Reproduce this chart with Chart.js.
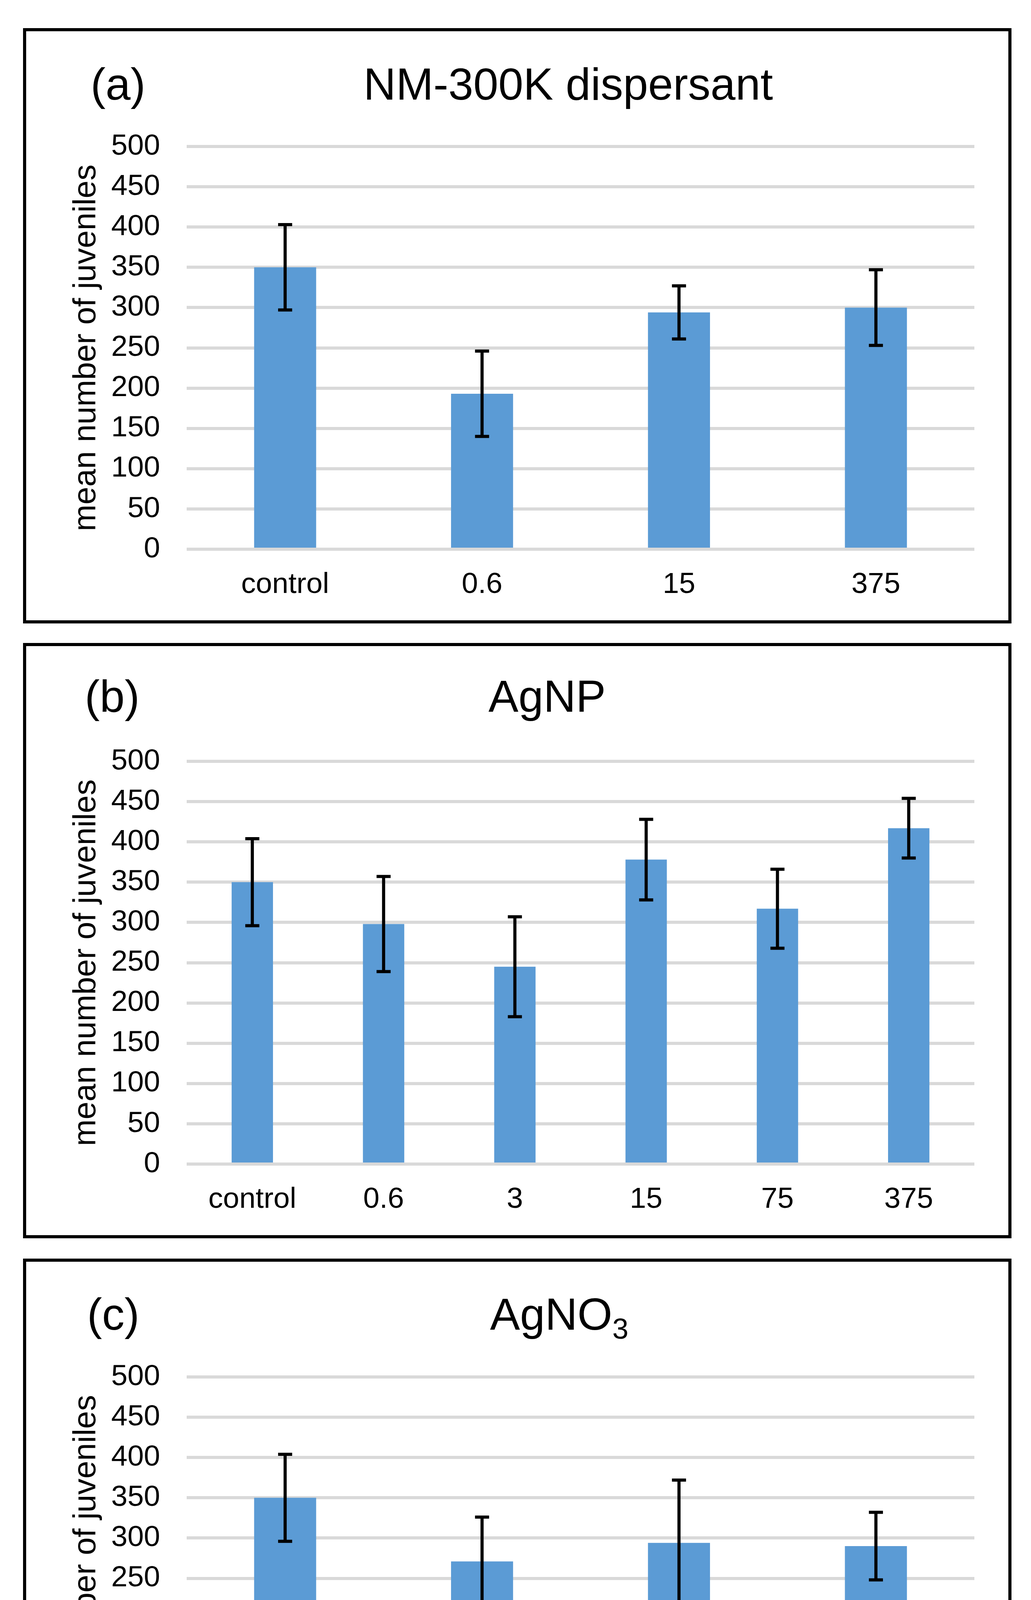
<!DOCTYPE html>
<html lang="en">
<head>
<meta charset="UTF-8">
<title>Mean number of juveniles</title>
<script src="https://cdn.jsdelivr.net/npm/chart.js"></script>
<style>
  body { margin: 0; background: #fff; width: 2640px; height: 4785px; position: relative; overflow: hidden; }
  canvas { position: absolute; }
</style>
</head>
<body>
<canvas id="panelA" width="2531" height="1524" style="left:59px;top:72px;width:2531px;height:1524px"></canvas>
<canvas id="panelB" width="2531" height="1524" style="left:59px;top:1646px;width:2531px;height:1524px"></canvas>
<canvas id="panelC" width="2531" height="1524" style="left:59px;top:3222px;width:2531px;height:1524px"></canvas>
<script>
// values (mean and +/- error)
const labelsA = ['control', '0.6', '15', '375'];
const meanA = [350, 193, 294, 300];
const errA = [53, 53, 33, 47];

const labelsB = ['control', '0.6', '3', '15', '75', '375'];
const meanB = [350, 298, 245, 378, 317, 417];
const errB = [54, 59, 62, 50, 49, 37];

const labelsC = ['control', '0.6', '15', '375'];
const meanC = [350, 271, 294, 290];
const errC = [54, 55, 78, 42];

const yMin = 0, yMax = 500, yStep = 50;
const yTitle = 'mean number of juveniles';

const FONT = '"Liberation Sans", Arial, sans-serif';

// draws the frame, the (a)/(b)/(c) tag and the heading
const headingPlugin = {
    id: 'heading',
    afterDraw(chart, args, opts) {
        const ctx = chart.ctx;
        ctx.save();
        ctx.fillStyle = '#000';
        ctx.textBaseline = 'alphabetic';
        ctx.textAlign = 'left';
        ctx.font = '115px ' + FONT;
        ctx.fillText(opts.tag, opts.tagX, opts.baseY);

        // heading may have a subscript part
        const parts = opts.title.map(p => ({
            text: p[0], sub: p[1],
            font: (p[1] ? '74px ' : '115px ') + FONT
        }));
        let total = 0;
        parts.forEach(p => { ctx.font = p.font; p.w = ctx.measureText(p.text).width; total += p.w; });
        let x = opts.titleX - total / 2;
        parts.forEach(p => {
            ctx.font = p.font;
            ctx.fillText(p.text, x, opts.baseY + (p.sub ? 23 : 0));
            x += p.w;
        });

        ctx.lineWidth = 8;
        ctx.strokeStyle = '#000';
        ctx.strokeRect(4, 4, chart.width - 8, chart.height - 8);
        ctx.restore();
    }
};

// error bars with caps
const errorBarPlugin = {
    id: 'errorBars',
    afterDatasetsDraw(chart) {
        const ctx = chart.ctx;
        const y = chart.scales.y;
        const ds = chart.data.datasets[0];
        const meta = chart.getDatasetMeta(0);
        ctx.save();
        ctx.strokeStyle = '#000';
        ctx.lineWidth = 8;
        meta.data.forEach((bar, i) => {
            const hi = y.getPixelForValue(ds.data[i] + ds.errors[i]);
            const lo = y.getPixelForValue(ds.data[i] - ds.errors[i]);
            ctx.beginPath();
            ctx.moveTo(bar.x, hi); ctx.lineTo(bar.x, lo);
            ctx.moveTo(bar.x - 18, hi); ctx.lineTo(bar.x + 18, hi);
            ctx.moveTo(bar.x - 18, lo); ctx.lineTo(bar.x + 18, lo);
            ctx.stroke();
        });
        ctx.restore();
    }
};

function makePanel(id, labels, means, errs, heading) {
    return new Chart(document.getElementById(id), {
        type: 'bar',
        data: {
            labels: labels,
            datasets: [{
                data: means,
                errors: errs,
                backgroundColor: '#5b9bd5',
                barPercentage: 0.315,
                categoryPercentage: 1
            }]
        },
        options: {
            responsive: false,
            animation: false,
            devicePixelRatio: 1,
            layout: { padding: { top: 303, right: 95, bottom: 0, left: 0 } },
            plugins: {
                legend: { display: false },
                tooltip: { enabled: false },
                heading: heading
            },
            scales: {
                x: {
                    grid: { display: false, drawTicks: false },
                    border: { display: false },
                    ticks: { font: { family: FONT, size: 75 }, color: '#000', padding: 46, maxRotation: 0 },
                    afterFit: s => { s.height = 190; }
                },
                y: {
                    min: yMin,
                    max: yMax,
                    ticks: { stepSize: yStep, font: { family: FONT, size: 75 }, color: '#000', padding: 68 },
                    grid: { color: '#d9d9d9', lineWidth: 8, drawTicks: false },
                    border: { display: false },
                    title: {
                        display: true,
                        text: yTitle,
                        color: '#000',
                        font: { family: FONT, size: 82 },
                        padding: { top: 113, bottom: 0 }
                    },
                    afterFit: s => { s.width = 419; }
                }
            }
        },
        plugins: [errorBarPlugin, headingPlugin]
    });
}

makePanel('panelA', labelsA, meanA, errA,
    { tag: '(a)', tagX: 173, titleX: 1396, baseY: 183, title: [['NM-300K dispersant', false]] });
makePanel('panelB', labelsB, meanB, errB,
    { tag: '(b)', tagX: 158, titleX: 1342, baseY: 176, title: [['AgNP', false]] });
makePanel('panelC', labelsC, meanC, errC,
    { tag: '(c)', tagX: 164, titleX: 1373, baseY: 182, title: [['AgNO', false], ['3', true]] });
</script>
</body>
</html>
